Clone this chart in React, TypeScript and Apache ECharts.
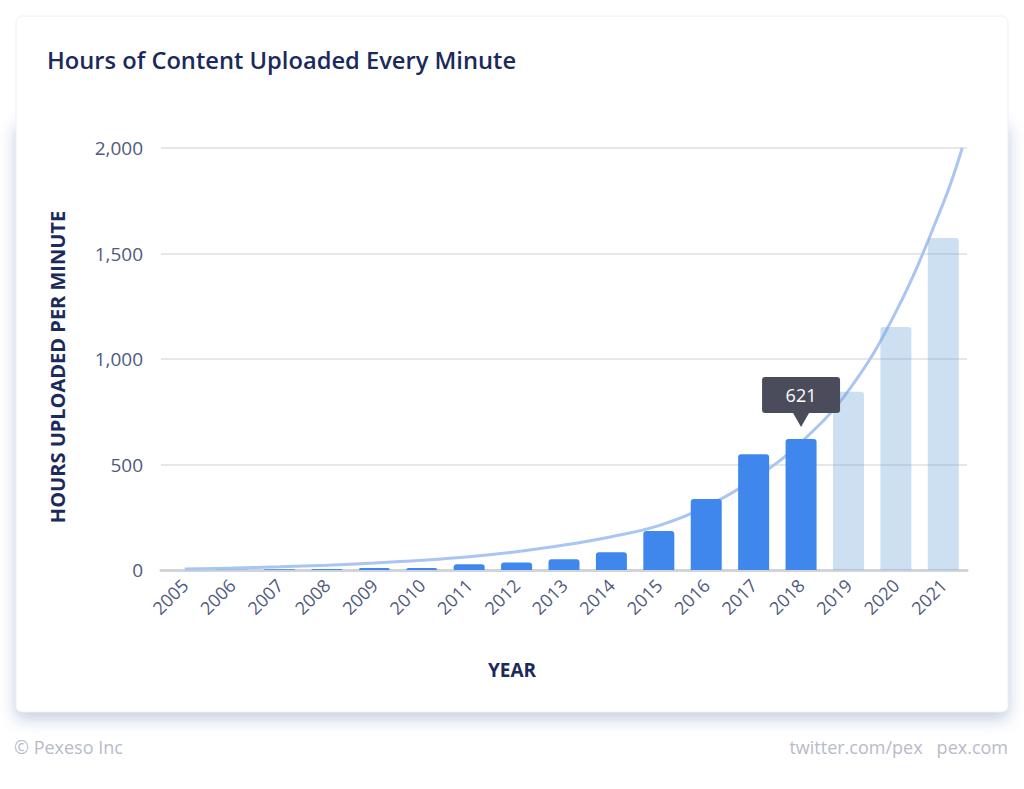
import React, { useEffect, useRef } from "react";
import * as echarts from "echarts";

const years = ["2005","2006","2007","2008","2009","2010","2011","2012","2013","2014","2015","2016","2017","2018","2019","2020","2021"];
const actualValues = [0, 1, 3, 5, 9, 10, 27, 35, 51, 84, 185, 336, 548, 621];
const forecastValues = [845, 1152, 1573];
const trendX = [0, 1, 2, 3, 4, 5, 6, 7, 8, 9, 10, 11, 12, 13, 14, 15, 16, 16.4];
const trendValues = [5, 9, 15, 23, 33, 46, 63, 87, 118, 158, 210, 300, 430, 605, 850, 1223, 1739, 2000];
const yTicks = [0, 500, 1000, 1500, 2000];
const highlightYear = "2018";
const highlightValue = 621;

const FONT = "'Open Sans', 'Noto Sans', sans-serif";

export default function App() {
  const ref = useRef<HTMLDivElement>(null);
  useEffect(() => {
    document.body.style.margin = "0";
    const chart = echarts.init(ref.current!, null, { renderer: "svg" });
    const barData = years.map((y, i) =>
      i < actualValues.length
        ? { value: actualValues[i], itemStyle: { color: "#3f87ec" } }
        : { value: forecastValues[i - actualValues.length], itemStyle: { color: "rgba(112,166,218,0.35)" } }
    );
    chart.setOption({
      animation: false,
      textStyle: { fontFamily: FONT },
      graphic: [
        {
          type: "rect",
          z: -10,
          shape: { x: 16, y: 120, width: 992, height: 592, r: 6 },
          style: { fill: "#fff", shadowBlur: 16, shadowOffsetY: 6, shadowColor: "rgba(40,60,130,0.28)" },
        },
        {
          type: "rect",
          z: -9,
          shape: { x: 16, y: 16, width: 992, height: 696, r: 6 },
          style: { fill: "#fff", stroke: "#eef0f5", lineWidth: 1 },
        },
        {
          type: "text",
          left: 14,
          top: 738,
          style: { text: "© Pexeso Inc", fill: "#b7bbca", font: `18px ${FONT}` },
        },
        {
          type: "text",
          right: 16,
          top: 738,
          style: { text: "twitter.com/pex   pex.com", fill: "#b7bbca", font: `18px ${FONT}` },
        },
      ],
      title: {
        text: "Hours of Content Uploaded Every Minute",
        left: 47,
        top: 48,
        padding: 0,
        textStyle: { color: "#1b2a5c", fontSize: 23.7, fontWeight: 600, fontFamily: FONT },
      },
      grid: { left: 161, right: 57, top: 148, bottom: 219 },
      xAxis: [
        {
          type: "category",
          data: years,
          name: "YEAR",
          nameLocation: "middle",
          nameGap: 90,
          nameTextStyle: { color: "#1b2a5c", fontSize: 19, fontWeight: "bold", padding: [0, 104, 0, 0] },
          axisLine: { lineStyle: { color: "#cfd3da", width: 3 } },
          axisTick: { show: false },
          axisLabel: { rotate: 45, color: "#4f5a7e", fontSize: 18, margin: 12, interval: 0 },
        },
        { type: "value", min: -0.5, max: 16.5, show: false },
      ],
      yAxis: {
        type: "value",
        min: 0,
        max: 2000,
        interval: 500,
        name: "HOURS UPLOADED PER MINUTE",
        nameLocation: "middle",
        nameGap: 94,
        nameTextStyle: { color: "#1b2a5c", fontSize: 20, fontWeight: "bold", padding: [0, 16, 0, 0] },
        axisLine: { show: false },
        axisTick: { show: false },
        splitLine: { lineStyle: { color: "#dcdfe5", width: 1.5 } },
        axisLabel: {
          color: "#4f5a7e",
          fontSize: 19,
          margin: 18,
          formatter: (v: number) => (yTicks.includes(v) ? v.toLocaleString("en-US") : ""),
        },
      },
      series: [
        {
          type: "line",
          xAxisIndex: 1,
          data: trendX.map((x, i) => [x, trendValues[i]]),
          smooth: 0.4,
          showSymbol: false,
          lineStyle: { color: "#a9c6f2", width: 3 },
          z: 1,
          silent: true,
        },
        {
          type: "bar",
          data: barData,
          barWidth: 31,
          z: 2,
          itemStyle: { borderRadius: [3, 3, 0, 0] },
          markPoint: {
            symbol: "path://M3,0L75,0Q78,0 78,3L78,33Q78,36 75,36L47,36L39,50L31,36L3,36Q0,36 0,33L0,3Q0,0 3,0Z",
            symbolSize: [78, 50],
            symbolOffset: [0, -37],
            itemStyle: { color: "#4a4c5c" },
            label: { show: true, color: "#ffffff", fontSize: 18, offset: [0, -7], position: "inside" },
            data: [{ coord: [highlightYear, highlightValue], value: highlightValue }],
          },
        },
      ],
    });
    return () => chart.dispose();
  }, []);
  return <div ref={ref} style={{ width: 1024, height: 789 }} />;
}
